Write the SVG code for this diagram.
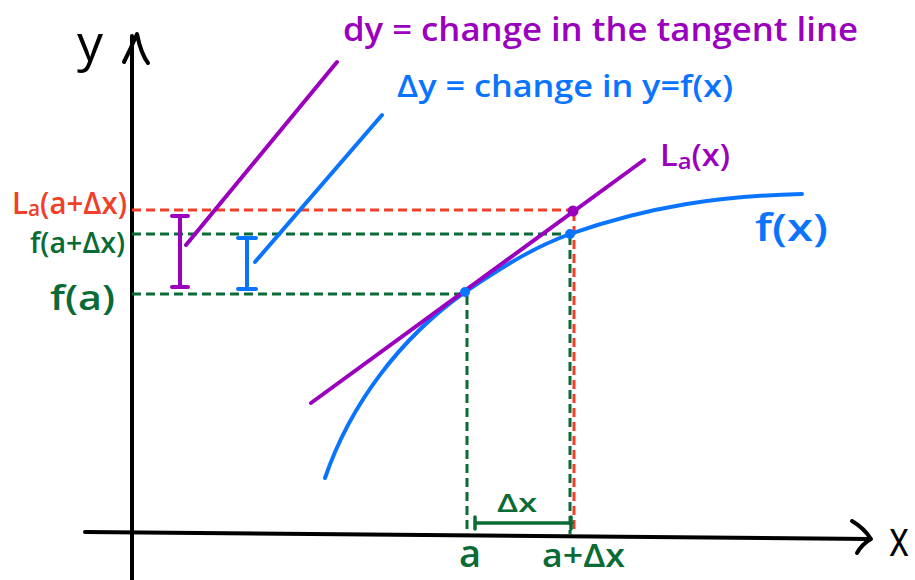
<svg xmlns="http://www.w3.org/2000/svg" width="915" height="580" viewBox="0 0 915 580">
<style>
.ax{stroke:#000;stroke-width:4;fill:none;stroke-linecap:round;stroke-linejoin:round}
.pu{stroke:#9b00bf;stroke-width:4;fill:none;stroke-linecap:round}
.bl{stroke:#0a74ff;stroke-width:4;fill:none;stroke-linecap:round}
.gd{stroke:#0a6b36;stroke-width:3;stroke-dasharray:9 5;fill:none}
.rd{stroke:#f0402a;stroke-width:3;stroke-dasharray:9 5;fill:none}
.gs{stroke:#0a6b36;stroke-width:3.5;fill:none;stroke-linecap:round}
text{font-family:"Open Sans","Noto Sans",sans-serif;font-weight:600}
.tp{fill:#9b00bf}
.tb{fill:#0a74ff}
.tg{fill:#0a6b36}
.tr{fill:#f0402a}
.tk{fill:#000;font-weight:400}
</style>
<g id="axes">
<line class="ax" x1="132" y1="36" x2="132" y2="580"/>
<path class="ax" d="M124,62 Q131,48 137,34 Q141,54 148,63"/>
<line class="ax" x1="85" y1="532" x2="870" y2="539"/>
<path class="ax" d="M852,521 Q864,528 871,539 Q862,544 857,553"/>
<text class="tk" x="90" y="61" font-size="52" text-anchor="middle">y</text>
<text class="tk" x="889" y="556" font-size="50" textLength="20" lengthAdjust="spacingAndGlyphs">x</text>
</g>
<g id="guides">
<line class="rd" x1="132" y1="210" x2="572" y2="210"/>
<line class="rd" x1="574" y1="212" x2="574" y2="534"/>
<line class="gd" x1="132" y1="234" x2="569" y2="234"/>
<line class="gd" x1="570" y1="236" x2="570" y2="534"/>
<line class="gd" x1="132" y1="294" x2="464" y2="294"/>
<line class="gd" x1="467" y1="296" x2="467" y2="534"/>
</g>
<g id="curve">
<path class="bl" d="M325,478 C350,405 400,338 465,292 C510,262 535,247 570,234 C650,206 720,196 802,194"/>
</g>
<g id="tangent">
<line class="pu" x1="311" y1="403" x2="644" y2="160"/>
</g>
<g id="points">
<circle cx="465" cy="292" r="5" fill="#0a74ff"/>
<circle cx="570" cy="234" r="5" fill="#0a74ff"/>
<circle cx="573" cy="211" r="5.5" fill="#9b00bf"/>
</g>
<g id="connectors">
<path class="pu" d="M172,216 H188 M180,216 V287 M172,287 H188"/>
<path class="bl" d="M238,238 H256 M247,238 V289 M238,289 H256"/>
<line class="pu" x1="186" y1="245" x2="337" y2="62"/>
<line class="bl" x1="255" y1="262" x2="382" y2="115"/>
<path class="gs" d="M475,523 H572 M475,517 V529 M571,517 V529"/>
</g>
<g id="labels">
<text class="tp" x="343" y="41" font-size="32" textLength="515" lengthAdjust="spacingAndGlyphs">dy =  change in the tangent line</text>
<text class="tb" x="397" y="97" font-size="30" textLength="336" lengthAdjust="spacingAndGlyphs">Δy = change in y=f(x)</text>
<text class="tr" x="12" y="214" font-size="31" textLength="115" lengthAdjust="spacingAndGlyphs">L<tspan font-size="22" dy="2">a</tspan><tspan dy="-2">(a+Δx)</tspan></text>
<text class="tg" x="30" y="253" font-size="29" textLength="95" lengthAdjust="spacingAndGlyphs">f(a+Δx)</text>
<text class="tg" x="50" y="310" font-size="34" textLength="65" lengthAdjust="spacingAndGlyphs">f(a)</text>
<text class="tp" x="660" y="166" font-size="30" textLength="70" lengthAdjust="spacingAndGlyphs">L<tspan font-size="22" dy="3">a</tspan><tspan dy="-3">(x)</tspan></text>
<text class="tb" x="755" y="241" font-size="38" textLength="73" lengthAdjust="spacingAndGlyphs">f(x)</text>
<text class="tg" x="470" y="567" font-size="38" text-anchor="middle">a</text>
<text class="tg" x="542" y="567" font-size="32" textLength="83" lengthAdjust="spacingAndGlyphs">a+Δx</text>
<text class="tg" x="497" y="512" font-size="26" textLength="40" lengthAdjust="spacingAndGlyphs">Δx</text>
</g>
</svg>
